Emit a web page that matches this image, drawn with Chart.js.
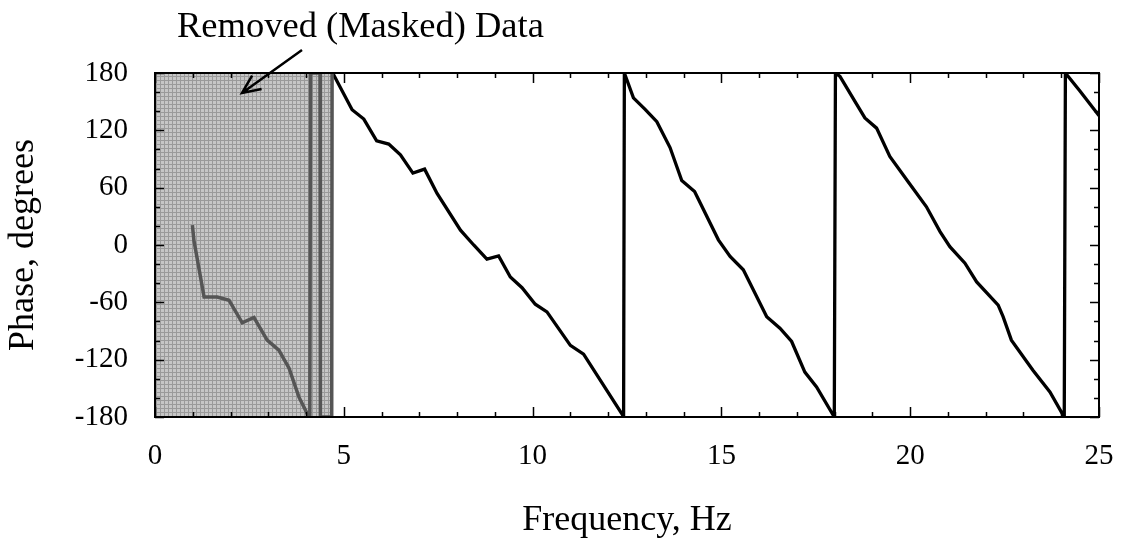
<!DOCTYPE html>
<html>
<head>
<meta charset="utf-8">
<script src="https://cdn.jsdelivr.net/npm/chart.js@4.4.1/dist/chart.umd.min.js"></script>
<style>
html,body{margin:0;padding:0;background:#fff;}
#wrap{width:1122px;height:544px;position:relative;}
</style>
</head>
<body>
<div id="wrap"><canvas id="c" width="1122" height="544"></canvas></div>
<script>
// Frequency (Hz) and phase (degrees) of the retained data
const freqActive = [4.72,5.22,5.53,5.87,6.19,6.5,6.83,7.14,7.47,8.09,8.44,8.79,9.1,9.41,9.72,10.07,10.38,11.0,11.35,12.36,12.41,
  12.43,12.67,12.98,13.29,13.64,13.95,14.29,14.92,15.23,15.58,16.2,16.55,16.86,17.21,17.52,17.99,
  18.02,18.14,18.54,18.8,19.11,19.46,19.95,20.43,20.79,21.05,21.45,21.76,22.33,22.46,22.68,23.25,23.7,24.05,24.08,
  24.11,24.5,24.98,25.0];
const phaseActive = [179,141.5,131.8,109,105.6,94.4,75.2,79.4,54,15.5,0,-14.7,-11.5,-33.5,-44.7,-62,-70,-105,-114.3,-176.4,-180,
  180,154,142,129,102,67.4,56,5.4,-12,-26,-75,-87,-101,-133,-148.5,-180,
  180,176.5,150,133,122.3,92.6,66,40,14,-1.7,-19,-38.6,-63,-75,-99.6,-131,-153.8,-178,-180,
  180,161,136.3,135.5];
// Removed (masked) data
const freqMasked = [0.99,1.03,1.3,1.65,1.96,2.31,2.62,2.97,3.28,3.55,3.81,4.03,4.1,4.12,4.37,4.38,4.68,4.69];
const phaseMasked = [20.8,5,-54.5,-54.5,-57.8,-81.4,-75.8,-99.6,-110,-129,-159,-176.4,-180,180,180,-180,-180,180];
const maskEnd = 4.7;
const xTickLabels = [0,5,10,15,20,25];
const yTickLabels = [-180,-120,-60,0,60,120,180];
const annotationText = "Removed (Masked) Data";
const FONT = "'Liberation Serif','Times New Roman',serif";

const toPts = (xs, ys) => xs.map((x,i)=>({x:x,y:ys[i]}));

function makePattern(ctx){
  const c = document.createElement('canvas');
  c.width = 4; c.height = 4;
  const g = c.getContext('2d');
  g.fillStyle = '#c6c6c6'; g.fillRect(0,0,4,4);
  g.fillStyle = '#9a9a9a'; g.fillRect(0,0,4,1); g.fillRect(0,0,1,4);
  return ctx.createPattern(c,'repeat');
}

const maskPlugin = {
  id:'mask',
  beforeDatasetsDraw(chart){
    const {ctx, chartArea:a, scales:{x}} = chart;
    const xe = x.getPixelForValue(maskEnd);
    ctx.save();
    ctx.fillStyle = makePattern(ctx);
    ctx.fillRect(a.left, a.top, xe - a.left, a.bottom - a.top);
    ctx.restore();
  }
};

const framePlugin = {
  id:'frame',
  afterDatasetsDraw(chart){
    const {ctx, chartArea:a, scales:{x,y}} = chart;
    ctx.save();
    ctx.strokeStyle = '#000';
    ctx.lineWidth = 1.5;
    ctx.beginPath();
    for(let v=0; v<=25; v+=1){
      const px = Math.round(x.getPixelForValue(v))+0.5;
      const L = (v%5===0)?10:5;
      ctx.moveTo(px,a.bottom); ctx.lineTo(px,a.bottom-L);
      ctx.moveTo(px,a.top); ctx.lineTo(px,a.top+L);
    }
    for(let v=-180; v<=180; v+=20){
      const py = Math.round(y.getPixelForValue(v))+0.5;
      const L = (v%60===0)?9:5;
      ctx.moveTo(a.left,py); ctx.lineTo(a.left+L,py);
      ctx.moveTo(a.right,py); ctx.lineTo(a.right-L,py);
    }
    ctx.stroke();
    ctx.lineWidth = 2;
    ctx.strokeRect(a.left, a.top, a.right-a.left, a.bottom-a.top);
    // annotation
    ctx.fillStyle = '#000';
    ctx.font = "36.5px " + FONT;
    ctx.textBaseline = 'alphabetic';
    ctx.textAlign = 'left';
    ctx.fillText(annotationText, 177, 37);
    const x0=302, y0=50, x1=242, y1=93;
    ctx.lineWidth = 2.5;
    ctx.beginPath();
    ctx.moveTo(x0,y0); ctx.lineTo(x1,y1);
    const ang = Math.atan2(y0-y1, x0-x1);
    const hl = 20;
    ctx.moveTo(x1 + hl*Math.cos(ang+0.42), y1 + hl*Math.sin(ang+0.42));
    ctx.lineTo(x1,y1);
    ctx.lineTo(x1 + hl*Math.cos(ang-0.42), y1 + hl*Math.sin(ang-0.42));
    ctx.stroke();
    ctx.restore();
  }
};

new Chart(document.getElementById('c'), {
  type:'line',
  data:{
    datasets:[
      {data:toPts(freqMasked, phaseMasked), borderColor:'#555555', borderWidth:3.5, pointRadius:0, tension:0},
      {data:toPts(freqActive, phaseActive), borderColor:'#000', borderWidth:3.3, pointRadius:0, tension:0}
    ]
  },
  options:{
    responsive:false,
    animation:false,
    devicePixelRatio:1,
    layout:{padding:{top:73,right:23,left:0,bottom:0}},
    plugins:{legend:{display:false}, tooltip:{enabled:false}},
    scales:{
      x:{
        type:'linear', min:0, max:25,
        afterBuildTicks(s){ s.ticks = xTickLabels.map(v=>({value:v})); },
        afterFit(s){ s.height = 127; s.paddingLeft = 0; s.paddingRight = 0; },
        grid:{display:false, drawTicks:false},
        border:{display:false},
        ticks:{padding:22, color:'#000', font:{family:FONT, size:29}, maxRotation:0, autoSkip:false},
        title:{display:true, text:'Frequency, Hz', color:'#000', font:{family:FONT, size:36}, padding:{top:0,bottom:2}}
      },
      y:{
        type:'linear', min:-180, max:180,
        afterBuildTicks(s){ s.ticks = yTickLabels.map(v=>({value:v})); },
        afterFit(s){ s.width = 155; s.paddingTop = 0; s.paddingBottom = 0; },
        grid:{display:false, drawTicks:false},
        border:{display:false},
        ticks:{padding:27, color:'#000', font:{family:FONT, size:29}, autoSkip:false},
        title:{display:true, text:'Phase, degrees', color:'#000', font:{family:FONT, size:36}, padding:{top:2,bottom:0}}
      }
    }
  },
  plugins:[maskPlugin, framePlugin]
});
</script>
</body>
</html>
